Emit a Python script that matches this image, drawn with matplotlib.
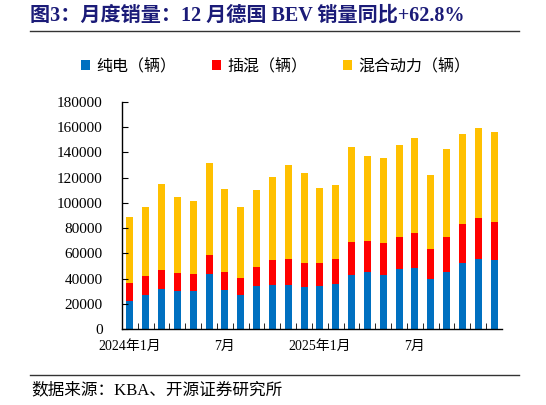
import matplotlib
matplotlib.use("Agg")
import matplotlib.pyplot as plt
import numpy as np

# Monthly Germany sales, Jan 2024 - Dec 2025
months = ["2024年1月", "", "", "", "", "", "7月", "", "", "", "", "",
          "2025年1月", "", "", "", "", "", "7月", "", "", "", "", ""]
bev = [22500, 27200, 31500, 29900, 29900, 43700, 31000, 27000, 34400, 35200, 35200, 33400,
       34400, 36000, 42600, 45300, 42900, 47400, 48500, 39700, 45300, 52700, 55600, 54800]
bev_phev = [36500, 41800, 47100, 44700, 43900, 58500, 45300, 40200, 48900, 54500, 55600, 52400,
            52100, 55300, 68800, 69600, 68000, 72800, 75900, 63200, 72800, 83400, 88200, 84700]
total = [89000, 96900, 114600, 104800, 101100, 131500, 110900, 96600, 110100, 120700, 129700, 123400,
         111700, 113800, 144000, 137100, 135300, 146100, 151200, 121800, 142700, 154300, 159100, 156200]
phev = [a - b for a, b in zip(bev_phev, bev)]
hev = [a - b for a, b in zip(total, bev_phev)]

SERIES = ["纯电（辆）", "插混（辆）", "混合动力（辆）"]
COLORS = ["#0070C0", "#FF0000", "#FFC000"]
CJK = ["Liberation Serif", "Noto Sans CJK SC", "DejaVu Sans"]

plt.rcParams["font.family"] = CJK

fig = plt.figure(figsize=(5.46, 4.05), dpi=100)
ax = fig.add_axes([0.2234, 0.1877, 0.696, 0.5605])

x = np.arange(len(bev))
w = 0.45
ax.bar(x, bev, w, color=COLORS[0], label=SERIES[0])
ax.bar(x, phev, w, bottom=bev, color=COLORS[1], label=SERIES[1])
ax.bar(x, hev, w, bottom=bev_phev, color=COLORS[2], label=SERIES[2])

ax.set_xlim(-0.5, len(bev) - 0.5)
ax.set_ylim(0, 180000)
ax.set_yticks(np.arange(0, 180001, 20000))
ax.tick_params(axis="y", direction="in", length=4, labelsize=11, pad=14)
ax.set_xticks(x)
ax.set_xticklabels(months, fontsize=10)
ax.tick_params(axis="x", which="major", length=0, pad=8)
ax.set_xticks(np.arange(0.5, len(bev) - 0.5, 1), minor=True)
ax.tick_params(axis="x", which="minor", direction="in", length=4)
for s in ["top", "right"]:
    ax.spines[s].set_visible(False)
for s in ["left", "bottom"]:
    ax.spines[s].set_linewidth(1.0)

leg = fig.legend(loc="center", bbox_to_anchor=(0.505, 0.835), ncol=3, frameon=False,
                 fontsize=11.5, handlelength=0.6, handleheight=0.6, handletextpad=0.4,
                 columnspacing=2.2)

fig.text(0.055, 0.962, "图3：月度销量：12 月德国 BEV 销量同比+62.8%", fontsize=14.5,
         fontweight="bold", color="#1B1B78", va="center", ha="left",
         family=["Liberation Serif", "Noto Sans CJK SC"])
fig.add_artist(plt.Line2D([0.055, 0.95], [0.923, 0.923], color="#333333", lw=1.0))
fig.add_artist(plt.Line2D([0.055, 0.95], [0.073, 0.073], color="#333333", lw=1.0))
fig.text(0.058, 0.037, "数据来源：KBA、开源证券研究所", fontsize=12, va="center", ha="left")

fig.savefig("out.png", dpi=100)
